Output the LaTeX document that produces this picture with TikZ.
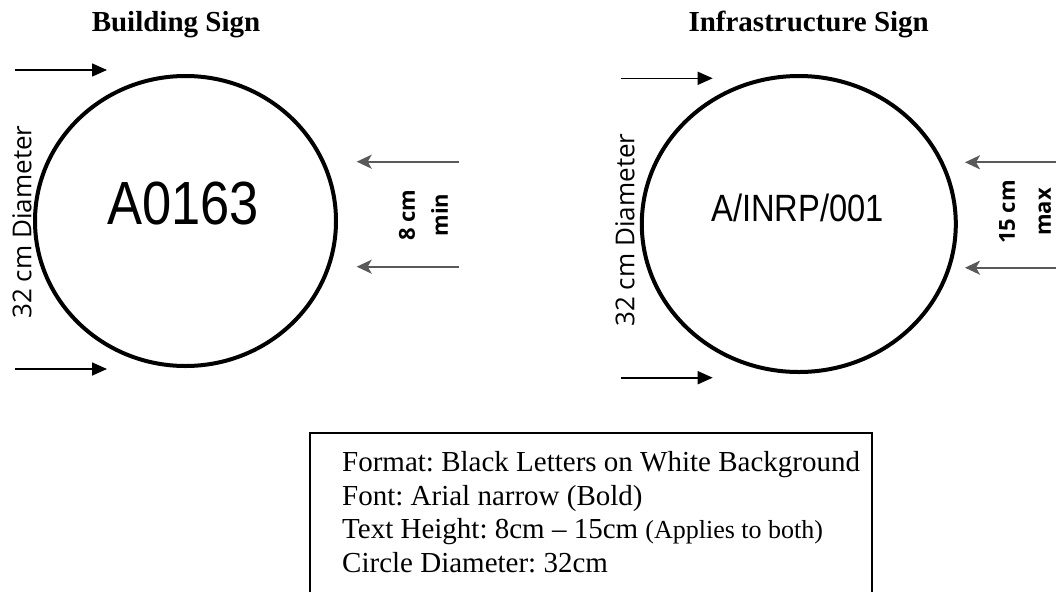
\documentclass[tikz,border=0pt]{standalone}
\usepackage{fontspec}
\setmainfont{Liberation Serif}
\newfontfamily\dimfont{Open Sans}
\newfontfamily\signfont[FakeStretch=0.86]{Liberation Sans}
\usetikzlibrary{arrows.meta,shapes.geometric}
\frenchspacing

\begin{document}
\begin{tikzpicture}[x=1pt, y=-1pt,
		signring/.style={draw, ellipse, line width=4pt, inner sep=0pt},
		diamarrow/.style={-{Triangle[length=15pt,width=13pt]}, line width=1.6pt},
		heightarrow/.style={-{Stealth[length=15pt,width=14pt,inset=4pt]}, line width=2pt, draw=black!65},
		title/.style={font=\fontsize{29}{34}\selectfont\bfseries, anchor=base},
		dimlabel/.style={rotate=90, align=center, font=\dimfont\fontsize{26}{30}\selectfont},
		spec/.style={anchor=base west, inner sep=0pt, font=\fontsize{29}{34}\selectfont}]
		\useasboundingbox (0,0) rectangle (1056,592);

		% the two signs
		\node[title] (btitle) at (176,31.5) {Building Sign};
		\node[title] (ititle) at (808.7,31) {Infrastructure Sign};
		\node[signring, minimum width=301pt, minimum height=290pt] (bsign) at (185.5,221) {};
		\node[signring, minimum width=314pt, minimum height=296pt] (isign) at (798.8,224) {};
		\node[font=\signfont\fontsize{61}{61}\selectfont] (bcode) at (183,203) {A0163};
		\node[font=\signfont\fontsize{38}{40}\selectfont] (icode) at (797.5,208) {A/INRP/001};

		% diameter marks
		\node[dimlabel] (bdia) at (22,222) {32 cm Diameter};
		\node[dimlabel] (idia) at (625,230) {32 cm Diameter};
		\foreach \nm/\x/\y in {bd1/15/70, bd2/107/70, bd3/15/369, bd4/107/369,
			id1/620.7/78.3, id2/712.7/78.3, id3/620.7/377.7, id4/712.7/377.7}
			\coordinate (\nm) at (\x,\y);
		\draw[diamarrow] (bd1) -- (bd2);
		\draw[diamarrow] (bd3) -- (bd4);
		\draw[diamarrow] (id1) -- (id2);
		\draw[diamarrow] (id3) -- (id4);

		% text height marks
		\node[dimlabel, font=\dimfont\bfseries\fontsize{22}{33}\selectfont] (bmin) at (423.5,215) {8 cm\\min};
		\node[dimlabel, font=\dimfont\bfseries\fontsize{22}{36}\selectfont] (imax) at (1025,212) {15 cm\\max};
		\foreach \nm/\x/\y in {bh1/459/161.7, bh2/356.7/161.7, bh3/459/266.7, bh4/356.7/266.7,
			ih1/1056/162.3, ih2/965/162.3, ih3/1056/267.7, ih4/965/267.7}
			\coordinate (\nm) at (\x,\y);
		\draw[heightarrow] (bh1) -- (bh2);
		\draw[heightarrow] (bh3) -- (bh4);
		\draw[heightarrow] (ih1) -- (ih2);
		\draw[heightarrow] (ih3) -- (ih4);

		% spec box
		\draw[line width=1.5pt] (310,592) -- (310,433) -- (872,433) -- (872,592);
		\foreach \txt [count=\i] in {Format: Black Letters on White Background,
			Font: Arial narrow (Bold),
			{Text Height: 8cm – 15cm {\fontsize{26}{30}\selectfont(Applies to both)}},
			Circle Diameter: 32cm}
			\node[spec] (spec\i) at (342,{471.5+33.7*(\i-1)}) {\txt};
	\end{tikzpicture}
\end{document}
